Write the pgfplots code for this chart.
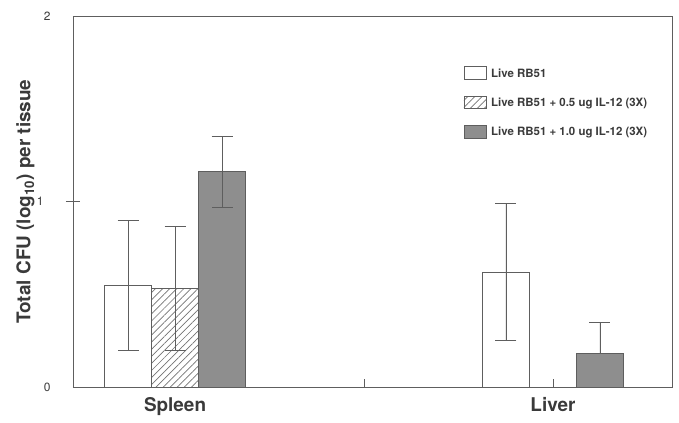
\documentclass[border=0pt]{standalone}
\usepackage{pgfplots}
\pgfplotsset{compat=1.18}
\usepackage{fontspec}
\setmainfont{TeX Gyre Heros}
\setsansfont{TeX Gyre Heros}
\usetikzlibrary{patterns,patterns.meta}
\definecolor{ln}{HTML}{5E5E5E}
\definecolor{tx}{HTML}{3A3A3A}
\definecolor{dk}{HTML}{8E8E8E}
\begin{document}
\begin{tikzpicture}
\path[use as bounding box] (-73bp,-36bp) rectangle (606bp,387bp);
\begin{axis}[
  at={(0,0)}, anchor=south west,
  scale only axis, width=599bp, height=371bp,
  xmin=0.730, xmax=2.315, ymin=0, ymax=2,
  axis line style={ln, line width=0.8pt},
  ytick={0,2}, ytick pos=left,
  ytick style={draw=ln, line width=0.8pt},
  extra y ticks={1},
  extra y tick style={tick align=center, major tick length=14bp, ytick style={draw=ln, line width=0.8pt}},
  y tick label style={font=\fontsize{12}{12}\selectfont, text=tx, xshift=-19bp},
  /pgf/number format/assume math mode=true,
  xtick={1,2}, xticklabels={Spleen,Liver}, xtick pos=bottom,
  x tick label style={font=\fontsize{19}{19}\selectfont\bfseries, text=tx, yshift=-3bp},
  xtick style={draw=none},
  extra x ticks={1.5,2}, extra x tick labels={},
  extra x tick style={xtick style={draw=ln, line width=0.8pt}, tick align=inside, major tick length=8bp},
  ylabel={Total CFU (log\textsubscript{10}) per tissue},
  ylabel style={font=\fontsize{19}{19}\selectfont\bfseries, text=tx, at={(axis description cs:0,0.5)}, yshift=35bp},
  ybar, bar width=0.1243,
  error bars/error bar style={ln, line width=0.8pt},
  error bars/error mark options={rotate=90, ln, mark size=10.5bp, line width=0.8pt},
  legend cell align=left,
  legend style={draw=none, fill=none, at={(axis cs:1.755,1.74)}, anchor=north west,
    font=\fontsize{11.5}{11.5}\selectfont\bfseries, text=tx, row sep=15bp,
    nodes={inner xsep=5bp}},
  legend image code/.code={\draw[#1, draw=ln, line width=0.6pt] (0cm,-5.5bp) rectangle (22bp,7bp);},
]
\addplot[draw=ln, fill=white, line width=0.8pt, bar shift=-0.1243,
  error bars/.cd, y dir=both, y explicit]
  coordinates {(1,0.55) +- (0,0.35) (2,0.62) +- (0,0.37)};
\addlegendentry{Live RB51}
\addplot[draw=ln, pattern={Lines[angle=45, distance=5bp, line width=0.7pt]}, pattern color=black!55, line width=0.8pt, bar shift=0,
  error bars/.cd, y dir=both, y explicit]
  coordinates {(1,0.53) +- (0,0.335)};
\addlegendentry{Live RB51 + 0.5 ug IL-12 (3X)}
\addplot[draw=ln, fill=dk, line width=0.8pt, bar shift=0.1243,
  error bars/.cd, y dir=both, y explicit]
  coordinates {(1,1.16) +- (0,0.19)};
\addlegendentry{Live RB51 + 1.0 ug IL-12 (3X)}
\addplot[draw=ln, fill=dk, line width=0.8pt, bar shift=0.1243, forget plot,
  error bars/.cd, y dir=plus, y explicit]
  coordinates {(2,0.18) +- (0,0.17)};
\end{axis}
\end{tikzpicture}
\end{document}
